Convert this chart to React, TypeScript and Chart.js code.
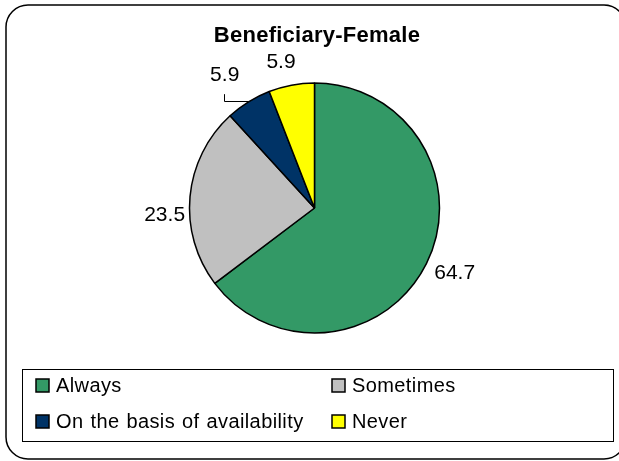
import React, { useEffect, useRef } from "react";
import { Chart, registerables } from "chart.js";

Chart.register(...registerables);

// ---- data ----
const chartTitle = "Beneficiary-Female";
const categories = ["Always", "Sometimes", "On the basis of availability", "Never"];
const values = [64.7, 23.5, 5.9, 5.9];
const valueLabels = ["64.7", "23.5", "5.9", "5.9"];

// ---- styles ----
const colors = ["#339966", "#C0C0C0", "#003366", "#FFFF00"];
const FONT = '"Liberation Sans", Arial, sans-serif';
// data label placement: extra distance beyond rim (px), angle shift (deg), leader line
const labelGap = [29, 25, 37, 26];
const labelShift = [-2, -7.5, -1.8, -2.2];
const labelLeader = [false, false, true, false];

const W = 619;
const H = 461;

const decorPlugin = {
  id: "decor",
  beforeDraw(chart: any) {
    const ctx = chart.ctx;
    ctx.save();
    ctx.fillStyle = "#ffffff";
    ctx.fillRect(0, 0, W, H);
    // outer rounded frame
    ctx.strokeStyle = "#000000";
    ctx.lineWidth = 1.5;
    ctx.beginPath();
    ctx.roundRect(6, 5, 620, 454, 22);
    ctx.stroke();
    ctx.restore();
  },
  afterDraw(chart: any) {
    const ctx = chart.ctx;
    ctx.save();
    // title
    ctx.fillStyle = "#000000";
    ctx.font = `bold 22px ${FONT}`;
    ctx.textAlign = "center";
    ctx.textBaseline = "alphabetic";
    (ctx as any).letterSpacing = "0.25px";
    ctx.fillText(chartTitle, 317, 42);
    (ctx as any).letterSpacing = "0px";

    // data labels
    const meta = chart.getDatasetMeta(0);
    ctx.font = `21px ${FONT}`;
    meta.data.forEach((arc: any, i: number) => {
      const { x, y, startAngle, endAngle, outerRadius } = arc.getProps(
        ["x", "y", "startAngle", "endAngle", "outerRadius"],
        true
      );
      const mid = (startAngle + endAngle) / 2;
      const a = mid + (labelShift[i] * Math.PI) / 180;
      const d = outerRadius + labelGap[i];
      const lx = x + d * Math.cos(a);
      const ly = y + d * Math.sin(a);
      ctx.fillStyle = "#000000";
      ctx.textAlign = "center";
      ctx.fillText(valueLabels[i], lx, ly + 7.5);
      if (labelLeader[i]) {
        const ex = x + outerRadius * Math.cos(mid);
        const ey = y + outerRadius * Math.sin(mid);
        ctx.strokeStyle = "#000000";
        ctx.lineWidth = 1;
        ctx.beginPath();
        ctx.moveTo(Math.round(lx) - 0.5, ly + 21);
        ctx.lineTo(Math.round(lx) - 0.5, Math.round(ey) - 0.5);
        ctx.lineTo(ex, Math.round(ey) - 0.5);
        ctx.stroke();
      }
    });

    // legend box
    ctx.strokeStyle = "#000000";
    ctx.lineWidth = 1;
    ctx.strokeRect(22.5, 369.5, 591, 72);
    const colX = [36, 332];
    const rowY = [392, 428];
    ctx.font = `20px ${FONT}`;
    ctx.textAlign = "left";
    (ctx as any).letterSpacing = "0.4px";
    (ctx as any).wordSpacing = "1px";
    categories.forEach((name, i) => {
      const cx = colX[i % 2];
      const by = rowY[Math.floor(i / 2)];
      ctx.fillStyle = colors[i];
      ctx.fillRect(cx, by - 13, 13, 13);
      ctx.strokeStyle = "#000000";
      ctx.lineWidth = 1.5;
      ctx.strokeRect(cx, by - 13, 13, 13);
      ctx.fillStyle = "#000000";
      ctx.fillText(name, cx + 20, by);
    });
    ctx.restore();
  },
};

export default function App() {
  const ref = useRef<HTMLCanvasElement | null>(null);
  useEffect(() => {
    if (!ref.current) return;
    const chart = new Chart(ref.current, {
      type: "pie",
      data: {
        labels: categories,
        datasets: [
          {
            data: values,
            backgroundColor: colors,
            borderColor: "#000000",
            borderWidth: 1.5,
          },
        ],
      },
      options: {
        animation: false,
        responsive: false,
        radius: 125,
        layout: { padding: { left: 60, right: 50, top: 70, bottom: 115 } },
        plugins: {
          legend: { display: false },
          title: { display: false },
          tooltip: { enabled: false },
        },
      } as any,
      plugins: [decorPlugin],
    });
    return () => chart.destroy();
  }, []);
  return (
    <div style={{ position: "fixed", left: 0, top: 0, width: W, height: H, background: "#fff" }}>
      <canvas ref={ref} width={W} height={H} style={{ display: "block", width: W, height: H }} />
    </div>
  );
}
